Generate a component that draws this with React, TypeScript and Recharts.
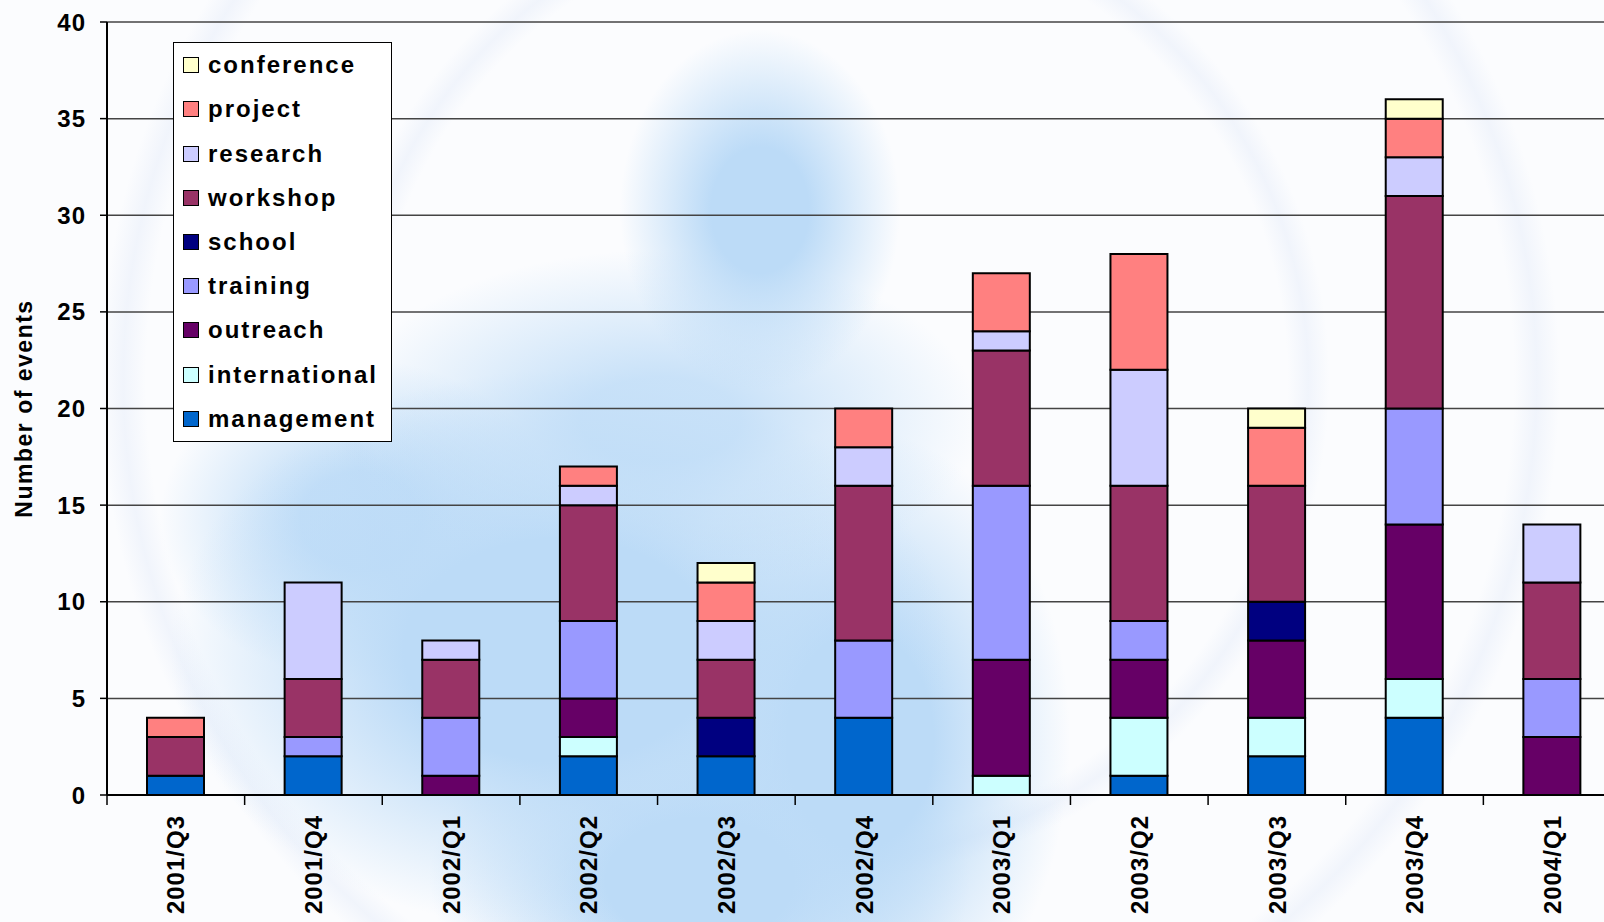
import { BarChart, Bar, XAxis, YAxis, CartesianGrid, Legend } from 'recharts';

const quarters = ['2001/Q3', '2001/Q4', '2002/Q1', '2002/Q2', '2002/Q3', '2002/Q4', '2003/Q1', '2003/Q2', '2003/Q3', '2003/Q4', '2004/Q1'];

// stacked bottom -> top
const management = [1, 2, 0, 2, 2, 4, 0, 1, 2, 4, 0];
const international = [0, 0, 0, 1, 0, 0, 1, 3, 2, 2, 0];
const outreach = [0, 0, 1, 2, 0, 0, 6, 3, 4, 8, 3];
const training = [0, 1, 3, 4, 0, 4, 9, 2, 0, 6, 3];
const school = [0, 0, 0, 0, 2, 0, 0, 0, 2, 0, 0];
const workshop = [2, 3, 3, 6, 3, 8, 7, 7, 6, 11, 5];
const research = [0, 5, 1, 1, 2, 2, 1, 6, 0, 2, 3];
const project = [1, 0, 0, 1, 2, 2, 3, 6, 3, 2, 0];
const conference = [0, 0, 0, 0, 1, 0, 0, 0, 1, 1, 0];

const yTicks = [0, 5, 10, 15, 20, 25, 30, 35, 40];

const series = [
    { key: 'management', color: '#0066CC', values: management },
    { key: 'international', color: '#CCFFFF', values: international },
    { key: 'outreach', color: '#660066', values: outreach },
    { key: 'training', color: '#9999FF', values: training },
    { key: 'school', color: '#000080', values: school },
    { key: 'workshop', color: '#993366', values: workshop },
    { key: 'research', color: '#CCCCFF', values: research },
    { key: 'project', color: '#FF8080', values: project },
    { key: 'conference', color: '#FFFFCC', values: conference },
];
const seriesOrder = series.map((s) => s.key);

const data = quarters.map((q, i) => {
    const row: Record<string, string | number> = { quarter: q };
    series.forEach((s) => { row[s.key] = s.values[i]; });
    return row;
});

const FONT = '"Liberation Sans", Arial, sans-serif';

// label at the band centre, tick mark at the band's left edge (Excel style)
const QuarterTick = (props: any) => {
    const { x, y, payload } = props;
    const half = payload.offset || 0;
    return (
        <g>
            <line x1={x - half} y1={y} x2={x - half} y2={y + 10} stroke="#000" strokeWidth={1.5} />
            <text
                x={x}
                y={y + 20}
                transform={`rotate(-90, ${x}, ${y + 20})`}
                textAnchor="end"
                dy="0.36em"
                fontFamily={FONT}
                fontWeight="bold"
                fontSize={24}
                letterSpacing={1}
                fill="#000"
            >
                {payload.value}
            </text>
        </g>
    );
};

const YLabel = (props: any) => {
    const { viewBox } = props;
    const x = viewBox.x + 32;
    const y = viewBox.y + viewBox.height / 2;
    return (
        <text
            x={x}
            y={y}
            transform={`rotate(-90, ${x}, ${y})`}
            textAnchor="middle"
            fontFamily={FONT}
            fontWeight="bold"
            fontSize={23}
            letterSpacing={1.5}
            fill="#000"
        >
            Number of events
        </text>
    );
};

const LegendBox = (props: any) => {
    const items = [...(props.payload || [])]
        .sort((a: any, b: any) => seriesOrder.indexOf(b.dataKey) - seriesOrder.indexOf(a.dataKey));
    return (
        <div style={{
            width: 217, height: 398, border: '1px solid #000', background: '#fff',
            fontFamily: FONT, fontWeight: 'bold', fontSize: 24, letterSpacing: 2,
            display: 'flex', flexDirection: 'column', justifyContent: 'space-around',
            boxSizing: 'content-box',
        }}>
            {items.map((it: any) => (
                <div key={it.value} style={{ display: 'flex', alignItems: 'center', height: 44, paddingLeft: 9 }}>
                    <span style={{ width: 14, height: 14, background: it.color, border: '1px solid #000', marginRight: 9, display: 'inline-block', flex: 'none' }} />
                    <span style={{ color: '#000', lineHeight: 1, whiteSpace: 'nowrap' }}>{it.value}</span>
                </div>
            ))}
        </div>
    );
};

const blue = (a: number) => `rgba(188,219,247,${a})`;
const background = [
    `radial-gradient(ellipse 140px 180px at 760px 210px, ${blue(1)} 35%, ${blue(0)} 100%)`,
    `radial-gradient(ellipse 320px 170px at 660px 420px, ${blue(0.8)} 25%, ${blue(0)} 100%)`,
    `radial-gradient(ellipse 390px 280px at 560px 650px, ${blue(1)} 40%, ${blue(0)} 100%)`,
    `radial-gradient(ellipse 210px 310px at 860px 740px, ${blue(1)} 35%, ${blue(0)} 100%)`,
    `radial-gradient(ellipse 200px 160px at 360px 520px, ${blue(0.9)} 30%, ${blue(0)} 100%)`,
    `radial-gradient(ellipse 270px 180px at 700px 880px, ${blue(1)} 35%, ${blue(0)} 100%)`,
    `radial-gradient(circle 520px at 830px 380px, rgba(230,238,250,0) 88%, rgba(225,233,248,0.4) 92%, rgba(230,238,250,0) 96%)`,
    `radial-gradient(circle 760px at 830px 380px, rgba(230,238,250,0) 90%, rgba(225,233,248,0.4) 93%, rgba(230,238,250,0) 96%)`,
].join(', ');

export default function App() {
    return (
        <div style={{ position: 'fixed', left: 0, top: 0, width: 1604, height: 922, overflow: 'hidden', background: `${background}, #fbfcfe` }}>
            <BarChart
                width={1625}
                height={922}
                data={data}
                margin={{ top: 22, right: 4, bottom: 0, left: 0 }}
                barSize={57}
            >
                <CartesianGrid vertical={false} stroke="#444" strokeWidth={1.5} />
                <XAxis
                    dataKey="quarter"
                    height={127}
                    interval={0}
                    tick={<QuarterTick />}
                    tickLine={false}
                    tickSize={0}
                    tickMargin={0}
                    axisLine={{ stroke: '#000', strokeWidth: 2 }}
                />
                <YAxis
                    width={107}
                    domain={[0, 40]}
                    ticks={yTicks}
                    interval={0}
                    tickSize={7}
                    tickMargin={14}
                    tickLine={{ stroke: '#000', strokeWidth: 1.5 }}
                    axisLine={{ stroke: '#000', strokeWidth: 2 }}
                    tick={{ fill: '#000', fontSize: 24, fontWeight: 'bold', fontFamily: FONT, letterSpacing: 1 }}
                    label={<YLabel />}
                />
                <Legend
                    layout="vertical"
                    verticalAlign="middle"
                    align="center"
                    content={<LegendBox />}
                    wrapperStyle={{ left: 173, top: 42, width: 219 }}
                />
                {series.map((s) => (
                    <Bar
                        key={s.key}
                        dataKey={s.key}
                        stackId="a"
                        fill={s.color}
                        stroke="#000"
                        strokeWidth={2}
                        isAnimationActive={false}
                    />
                ))}
            </BarChart>
        </div>
    );
}
